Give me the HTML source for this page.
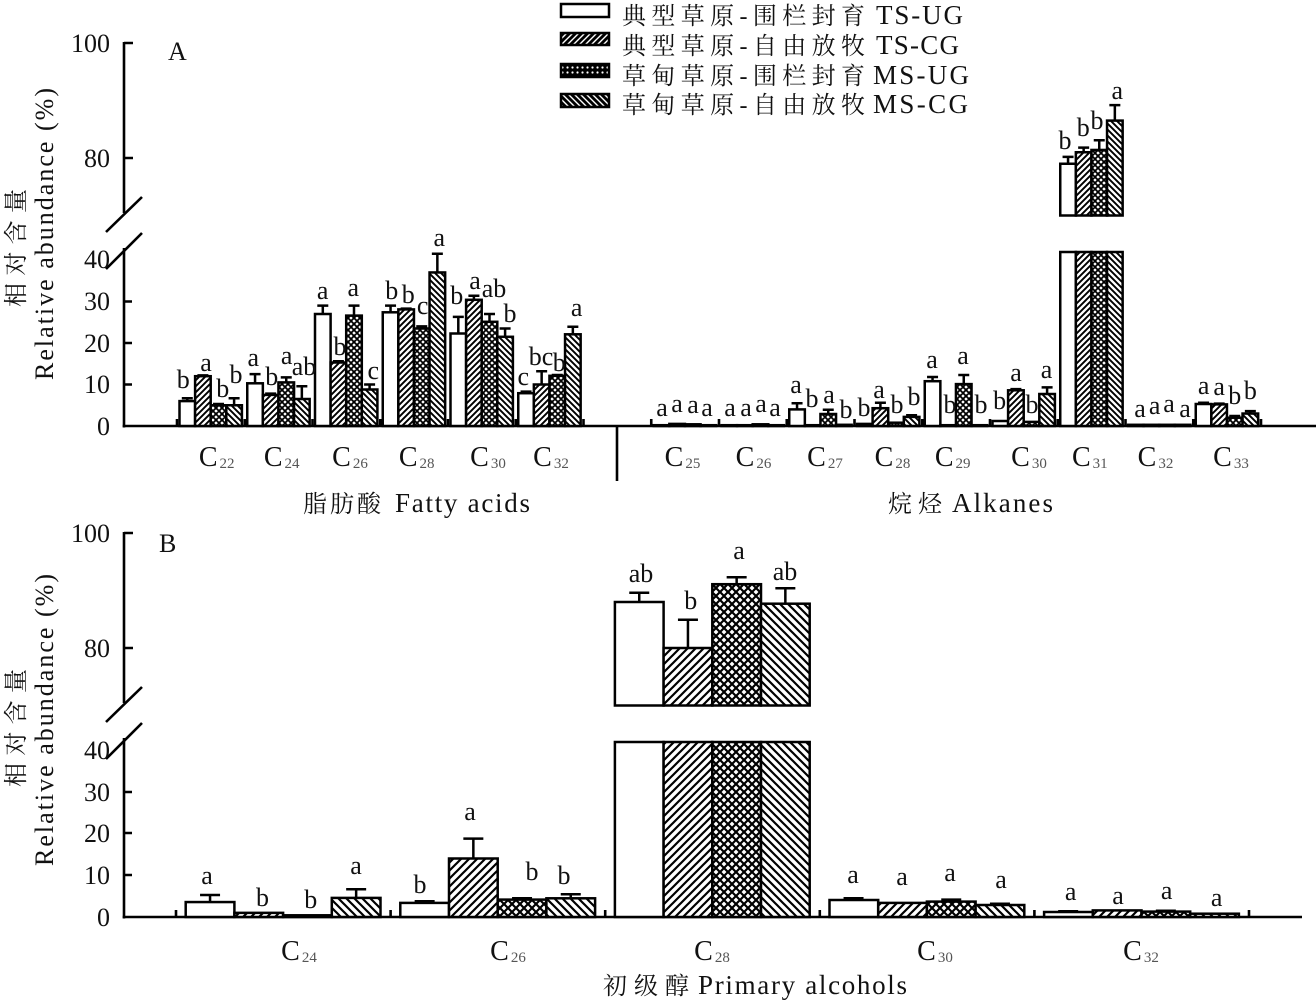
<!DOCTYPE html>
<html><head><meta charset="utf-8"><style>
html,body{margin:0;padding:0;background:#fff;}
svg{display:block;}
text{font-family:"Liberation Serif","Noto Serif CJK SC",serif;fill:#111;}
.cj{font-family:"Liberation Serif","Noto Serif CJK SC",serif;}
</style></head><body>
<svg width="1316" height="1000" viewBox="0 0 1316 1000" xmlns="http://www.w3.org/2000/svg">
<defs>
<pattern id="f" patternUnits="userSpaceOnUse" width="6" height="6"><rect width="6" height="6" fill="#fff"/><path d="M-1,1 l2,-2 M0,6 l6,-6 M5,7 l2,-2" stroke="#000" stroke-width="1.9"/></pattern>
<pattern id="b" patternUnits="userSpaceOnUse" width="6" height="6"><rect width="6" height="6" fill="#fff"/><path d="M-1,5 l2,2 M0,0 l6,6 M5,-1 l2,2" stroke="#000" stroke-width="1.9"/></pattern>
<pattern id="x" patternUnits="userSpaceOnUse" width="6" height="6"><rect width="6" height="6" fill="#fff"/><path d="M-1,1 l2,-2 M0,6 l6,-6 M5,7 l2,-2 M-1,5 l2,2 M0,0 l6,6 M5,-1 l2,2" stroke="#000" stroke-width="1.8"/></pattern>
<pattern id="fB" patternUnits="userSpaceOnUse" width="8" height="8"><rect width="8" height="8" fill="#fff"/><path d="M-1,1 l2,-2 M0,8 l8,-8 M7,9 l2,-2" stroke="#000" stroke-width="2.2"/></pattern>
<pattern id="bB" patternUnits="userSpaceOnUse" width="8" height="8"><rect width="8" height="8" fill="#fff"/><path d="M-1,7 l2,2 M0,0 l8,8 M7,-1 l2,2" stroke="#000" stroke-width="2.2"/></pattern>
<pattern id="xB" patternUnits="userSpaceOnUse" width="8" height="8"><rect width="8" height="8" fill="#fff"/><path d="M-1,1 l2,-2 M0,8 l8,-8 M7,9 l2,-2 M-1,7 l2,2 M0,0 l8,8 M7,-1 l2,2" stroke="#000" stroke-width="2.2"/></pattern>
<pattern id="lf" patternUnits="userSpaceOnUse" width="6" height="6"><rect width="6" height="6" fill="#000"/><path d="M-1,1 l2,-2 M0,6 l6,-6 M5,7 l2,-2" stroke="#fff" stroke-width="1.4"/></pattern>
<pattern id="lb" patternUnits="userSpaceOnUse" width="6" height="6"><rect width="6" height="6" fill="#000"/><path d="M-1,5 l2,2 M0,0 l6,6 M5,-1 l2,2" stroke="#fff" stroke-width="1.4"/></pattern>
<pattern id="lx" patternUnits="userSpaceOnUse" width="5" height="5"><rect width="5" height="5" fill="#000"/><circle cx="2.5" cy="2.5" r="1.1" fill="#fff"/></pattern>
</defs>

<!-- Legend -->
<g stroke="#000" stroke-width="2.5">
<rect x="561" y="4" width="48" height="13" fill="#fff"/>
<rect x="561" y="33" width="48" height="12" fill="url(#lf)"/>
<rect x="561" y="64" width="48" height="13" fill="url(#lx)"/>
<rect x="561" y="94" width="48" height="13" fill="url(#lb)"/>
</g>
<g font-size="24">
<text class="cj" x="622" y="24" textLength="243" lengthAdjust="spacing">典型草原-围栏封育</text>
<text class="cj" x="622" y="54" textLength="243" lengthAdjust="spacing">典型草原-自由放牧</text>
<text class="cj" x="622" y="84" textLength="243" lengthAdjust="spacing">草甸草原-围栏封育</text>
<text class="cj" x="622" y="113" textLength="243" lengthAdjust="spacing">草甸草原-自由放牧</text>
</g>
<g font-size="27">
<text x="876" y="24" textLength="87" lengthAdjust="spacing">TS-UG</text>
<text x="876" y="54" textLength="83" lengthAdjust="spacing">TS-CG</text>
<text x="873" y="84" textLength="96" lengthAdjust="spacing">MS-UG</text>
<text x="873" y="113" textLength="95" lengthAdjust="spacing">MS-CG</text>
</g>

<!-- ============ PANEL A ============ -->
<g stroke="#000" stroke-width="2.6" fill="none">
<path d="M124,42 V213 M124,248 V427.5"/>
<path d="M124,43 H133 M124,158 H133 M124,301.5 H132 M124,343 H132 M124,384.5 H132"/>
<path d="M106,232 L142,197 M106,269 L142,233"/>
<path d="M122.7,426 H1316"/>
<path d="M177,419V426 M244.75,419V426 M312.5,419V426 M380.25,419V426 M448,419V426 M515.75,419V426 M583.5,419V426 M651.25,419V426 M719,419V426 M786.75,419V426 M854.5,419V426 M922.25,419V426 M990,419V426 M1057.75,419V426 M1125.5,419V426 M1193.25,419V426 M1261,419V426"/>
<path d="M617,426 V481"/>
</g>
<g font-size="26" text-anchor="end">
<text x="110" y="52">100</text>
<text x="110" y="167">80</text>
<text x="110" y="268">40</text>
<text x="110" y="310">30</text>
<text x="110" y="352">20</text>
<text x="110" y="393">10</text>
<text x="110" y="435">0</text>
</g>
<text x="168" y="60" font-size="26">A</text>
<text transform="translate(53,234) rotate(-90)" text-anchor="middle" font-size="26" textLength="292" lengthAdjust="spacing">Relative abundance (%)</text>
<text class="cj" transform="translate(24,248) rotate(-90)" text-anchor="middle" font-size="24" textLength="118" lengthAdjust="spacing">相对含量</text>

<!-- A bars -->
<g stroke="#000" stroke-width="2.5">
<rect x="179.5" y="401.1" width="15.6" height="24.9" fill="#fff"/>
<rect x="195.1" y="376.2" width="15.6" height="49.8" fill="url(#f)"/>
<rect x="210.7" y="405.25" width="15.6" height="20.75" fill="url(#x)"/>
<rect x="226.3" y="405.25" width="15.6" height="20.75" fill="url(#b)"/>
<rect x="247.25" y="383.3" width="15.6" height="42.7" fill="#fff"/>
<rect x="262.85" y="394.9" width="15.6" height="31.1" fill="url(#f)"/>
<rect x="278.45" y="382.4" width="15.6" height="43.6" fill="url(#x)"/>
<rect x="294.05" y="399" width="15.6" height="27" fill="url(#b)"/>
<rect x="315" y="314" width="15.6" height="112" fill="#fff"/>
<rect x="330.6" y="362.5" width="15.6" height="63.5" fill="url(#f)"/>
<rect x="346.2" y="315.6" width="15.6" height="110.4" fill="url(#x)"/>
<rect x="361.8" y="389.5" width="15.6" height="36.5" fill="url(#b)"/>
<rect x="382.75" y="312.3" width="15.6" height="113.7" fill="#fff"/>
<rect x="398.35" y="309.4" width="15.6" height="116.6" fill="url(#f)"/>
<rect x="413.95" y="328.5" width="15.6" height="97.5" fill="url(#x)"/>
<rect x="429.55" y="272.45" width="15.6" height="153.55" fill="url(#b)"/>
<rect x="450.5" y="333.5" width="15.6" height="92.5" fill="#fff"/>
<rect x="466.1" y="299.8" width="15.6" height="126.2" fill="url(#f)"/>
<rect x="481.7" y="321.8" width="15.6" height="104.2" fill="url(#x)"/>
<rect x="497.3" y="336.8" width="15.6" height="89.2" fill="url(#b)"/>
<rect x="518.25" y="393.2" width="15.6" height="32.8" fill="#fff"/>
<rect x="533.85" y="384.5" width="15.6" height="41.5" fill="url(#f)"/>
<rect x="549.45" y="375.8" width="15.6" height="50.2" fill="url(#x)"/>
<rect x="565.05" y="334.3" width="15.6" height="91.7" fill="url(#b)"/>
<rect x="653.75" y="425.2" width="15.6" height="0.8" fill="#fff"/>
<rect x="669.35" y="423.9" width="15.6" height="2.1" fill="url(#f)"/>
<rect x="684.95" y="424.3" width="15.6" height="1.7" fill="url(#x)"/>
<rect x="700.55" y="425.2" width="15.6" height="0.8" fill="url(#b)"/>
<rect x="721.5" y="425.2" width="15.6" height="0.8" fill="#fff"/>
<rect x="737.1" y="425.2" width="15.6" height="0.8" fill="url(#f)"/>
<rect x="752.7" y="424.3" width="15.6" height="1.7" fill="url(#x)"/>
<rect x="768.3" y="425.2" width="15.6" height="0.8" fill="url(#b)"/>
<rect x="789.25" y="409.4" width="15.6" height="16.6" fill="#fff"/>
<rect x="804.85" y="425.2" width="15.6" height="0.8" fill="url(#f)"/>
<rect x="820.45" y="414" width="15.6" height="12" fill="url(#x)"/>
<rect x="836.05" y="424.8" width="15.6" height="1.2" fill="url(#b)"/>
<rect x="857" y="423.9" width="15.6" height="2.1" fill="#fff"/>
<rect x="872.6" y="408.2" width="15.6" height="17.8" fill="url(#f)"/>
<rect x="888.2" y="422.7" width="15.6" height="3.3" fill="url(#x)"/>
<rect x="903.8" y="416.9" width="15.6" height="9.1" fill="url(#b)"/>
<rect x="924.75" y="381.2" width="15.6" height="44.8" fill="#fff"/>
<rect x="940.35" y="425.2" width="15.6" height="0.8" fill="url(#f)"/>
<rect x="955.95" y="384.1" width="15.6" height="41.9" fill="url(#x)"/>
<rect x="971.55" y="425.2" width="15.6" height="0.8" fill="url(#b)"/>
<rect x="992.5" y="421" width="15.6" height="5" fill="#fff"/>
<rect x="1008.1" y="390.3" width="15.6" height="35.7" fill="url(#f)"/>
<rect x="1023.7" y="421.9" width="15.6" height="4.1" fill="url(#x)"/>
<rect x="1039.3" y="394" width="15.6" height="32" fill="url(#b)"/>
<rect x="1060.25" y="252" width="15.6" height="174" fill="#fff"/>
<rect x="1075.85" y="252" width="15.6" height="174" fill="url(#f)"/>
<rect x="1091.45" y="252" width="15.6" height="174" fill="url(#x)"/>
<rect x="1107.05" y="252" width="15.6" height="174" fill="url(#b)"/>
<rect x="1060.25" y="163.75" width="15.6" height="51.75" fill="#fff"/>
<rect x="1075.85" y="152.25" width="15.6" height="63.25" fill="url(#f)"/>
<rect x="1091.45" y="149.95" width="15.6" height="65.55" fill="url(#x)"/>
<rect x="1107.05" y="120.6" width="15.6" height="94.9" fill="url(#b)"/>
<rect x="1128" y="424.8" width="15.6" height="1.2" fill="#fff"/>
<rect x="1143.6" y="424.8" width="15.6" height="1.2" fill="url(#f)"/>
<rect x="1159.2" y="424.8" width="15.6" height="1.2" fill="url(#x)"/>
<rect x="1174.8" y="424.8" width="15.6" height="1.2" fill="url(#b)"/>
<rect x="1195.75" y="404" width="15.6" height="22" fill="#fff"/>
<rect x="1211.35" y="404.4" width="15.6" height="21.6" fill="url(#f)"/>
<rect x="1226.95" y="417.7" width="15.6" height="8.3" fill="url(#x)"/>
<rect x="1242.55" y="413.55" width="15.6" height="12.45" fill="url(#b)"/>
</g>
<path fill="none" stroke="#000" stroke-width="2.5" d="
M187.3,401.1V398.2M181.8,398.2H192.8
M202.9,376.2V375.4M197.4,375.4H208.4
M218.5,405.25V404M213,404H224
M234.1,405.25V398.2M228.6,398.2H239.6
M255.05,383.3V374.1M249.55,374.1H260.55
M270.65,394.9V393.6M265.15,393.6H276.15
M286.25,382.4V377.4M280.75,377.4H291.75
M301.85,399V386.2M296.35,386.2H307.35
M322.8,314V305.6M317.3,305.6H328.3
M338.4,362.5V361.3M332.9,361.3H343.9
M354,315.6V305.6M348.5,305.6H359.5
M369.6,389.5V384.5M364.1,384.5H375.1
M390.55,312.3V305.6M385.05,305.6H396.05
M406.15,309.4V308.6M400.65,308.6H411.65
M421.75,328.5V326.4M416.25,326.4H427.25
M437.35,272.45V253.8M431.85,253.8H442.85
M458.3,333.5V316.9M452.8,316.9H463.8
M473.9,299.8V295.7M468.4,295.7H479.4
M489.5,321.8V314M484,314H495
M505.1,336.8V328.5M499.6,328.5H510.6
M526.05,393.2V391.6M520.55,391.6H531.55
M541.65,384.5V371.2M536.15,371.2H547.15
M557.25,375.8V375M551.75,375H562.75
M572.85,334.3V326.8M567.35,326.8H578.35
M797.05,409.4V403.2M791.55,403.2H802.55
M828.25,414V409.8M822.75,409.8H833.75
M880.4,408.2V402.8M874.9,402.8H885.9
M911.6,416.9V415.2M906.1,415.2H917.1
M932.55,381.2V377M927.05,377H938.05
M963.75,384.1V375M958.25,375H969.25
M1015.9,390.3V389.1M1010.4,389.1H1021.4
M1047.1,394V387.4M1041.6,387.4H1052.6
M1068.05,163.75V156.85M1062.55,156.85H1073.55
M1083.65,152.25V147.65M1078.15,147.65H1089.15
M1099.25,149.95V140.2M1093.75,140.2H1104.75
M1114.85,120.6V105.1M1109.35,105.1H1120.35
M1203.55,404V402.8M1198.05,402.8H1209.05
M1219.15,404.4V403.6M1213.65,403.6H1224.65
M1234.75,417.7V416M1229.25,416H1240.25
M1250.35,413.55V411.1M1244.85,411.1H1255.85"/>
<g font-size="26" text-anchor="middle">
<text x="183.3" y="388">b</text><text x="206" y="371">a</text><text x="222.7" y="397">b</text><text x="236" y="383">b</text>
<text x="253.3" y="366">a</text><text x="271.7" y="385">b</text><text x="286.7" y="364">a</text><text x="304" y="375">ab</text>
<text x="322.7" y="299">a</text><text x="340" y="355">b</text><text x="353.3" y="296">a</text><text x="373.3" y="379">c</text>
<text x="391.7" y="299">b</text><text x="408.3" y="303">b</text><text x="422.7" y="314">c</text><text x="439.3" y="246">a</text>
<text x="456.7" y="304">b</text><text x="475" y="289">a</text><text x="494" y="297">ab</text><text x="510" y="322">b</text>
<text x="523.3" y="385">c</text><text x="541" y="365">bc</text><text x="559.3" y="371">b</text><text x="576.7" y="316">a</text>
<text x="662" y="416">a</text><text x="677" y="412">a</text><text x="693" y="413">a</text><text x="707" y="416">a</text>
<text x="730" y="416">a</text><text x="746" y="416">a</text><text x="761" y="412">a</text><text x="775" y="416">a</text>
<text x="796" y="393">a</text><text x="812" y="407">b</text><text x="829" y="403">a</text><text x="846" y="418">b</text>
<text x="864" y="416">b</text><text x="879" y="398">a</text><text x="897" y="413">b</text><text x="914" y="405">b</text>
<text x="932" y="368">a</text><text x="950" y="413">b</text><text x="963" y="364">a</text><text x="981" y="413">b</text>
<text x="999.6" y="409">b</text><text x="1016" y="381">a</text><text x="1032" y="413">b</text><text x="1046.5" y="378">a</text>
<text x="1065" y="149">b</text><text x="1083.3" y="136">b</text><text x="1097" y="129">b</text><text x="1117.3" y="99">a</text>
<text x="1140" y="417">a</text><text x="1154.7" y="414">a</text><text x="1169" y="412">a</text><text x="1185" y="417">a</text>
<text x="1203.6" y="394">a</text><text x="1219.2" y="395">a</text><text x="1234.8" y="404">b</text><text x="1250.4" y="399">b</text>
</g>
<g font-size="28" text-anchor="middle">
<text x="216.7" y="466">C<tspan font-size="15" fill="#555" dx="2" dy="2">22</tspan></text>
<text x="281.7" y="466">C<tspan font-size="15" fill="#555" dx="2" dy="2">24</tspan></text>
<text x="350" y="466">C<tspan font-size="15" fill="#555" dx="2" dy="2">26</tspan></text>
<text x="416.7" y="466">C<tspan font-size="15" fill="#555" dx="2" dy="2">28</tspan></text>
<text x="488" y="466">C<tspan font-size="15" fill="#555" dx="2" dy="2">30</tspan></text>
<text x="551" y="466">C<tspan font-size="15" fill="#555" dx="2" dy="2">32</tspan></text>
<text x="682.5" y="466">C<tspan font-size="15" fill="#555" dx="2" dy="2">25</tspan></text>
<text x="753.5" y="466">C<tspan font-size="15" fill="#555" dx="2" dy="2">26</tspan></text>
<text x="825" y="466">C<tspan font-size="15" fill="#555" dx="2" dy="2">27</tspan></text>
<text x="892.5" y="466">C<tspan font-size="15" fill="#555" dx="2" dy="2">28</tspan></text>
<text x="952.7" y="466">C<tspan font-size="15" fill="#555" dx="2" dy="2">29</tspan></text>
<text x="1029" y="466">C<tspan font-size="15" fill="#555" dx="2" dy="2">30</tspan></text>
<text x="1089.8" y="466">C<tspan font-size="15" fill="#555" dx="2" dy="2">31</tspan></text>
<text x="1155.5" y="466">C<tspan font-size="15" fill="#555" dx="2" dy="2">32</tspan></text>
<text x="1231" y="466">C<tspan font-size="15" fill="#555" dx="2" dy="2">33</tspan></text>
</g>
<text class="cj" x="303" y="512" font-size="24" textLength="78" lengthAdjust="spacing">脂肪酸</text>
<text x="395" y="512" font-size="27" textLength="135" lengthAdjust="spacing">Fatty acids</text>
<text class="cj" x="888" y="512" font-size="24" textLength="54" lengthAdjust="spacing">烷烃</text>
<text x="952" y="512" font-size="27" textLength="101" lengthAdjust="spacing">Alkanes</text>

<!-- ============ PANEL B ============ -->
<g stroke="#000" stroke-width="2.6" fill="none">
<path d="M124,532 V703 M124,738 V918.5"/>
<path d="M124,533 H133 M124,648 H133 M124,792 H132 M124,833 H132 M124,875 H132"/>
<path d="M106,722 L142,687 M106,759 L142,723"/>
<path d="M122.7,917 H1302"/>
<path d="M176,910V917 M390.6,910V917 M605.2,910V917 M819.8,910V917 M1034.4,910V917 M1249,910V917"/>
</g>
<g font-size="26" text-anchor="end">
<text x="110" y="542">100</text>
<text x="110" y="657">80</text>
<text x="110" y="759">40</text>
<text x="110" y="801">30</text>
<text x="110" y="842">20</text>
<text x="110" y="884">10</text>
<text x="110" y="926">0</text>
</g>
<text x="159" y="552" font-size="26">B</text>
<text transform="translate(53,720) rotate(-90)" text-anchor="middle" font-size="26" textLength="292" lengthAdjust="spacing">Relative abundance (%)</text>
<text class="cj" transform="translate(24,728) rotate(-90)" text-anchor="middle" font-size="24" textLength="118" lengthAdjust="spacing">相对含量</text>

<g stroke="#000" stroke-width="2.5">
<rect x="185.7" y="902.06" width="48.7" height="14.94" fill="#fff"/>
<rect x="234.4" y="912.85" width="48.7" height="4.15" fill="url(#fB)"/>
<rect x="283.1" y="915.3" width="48.7" height="1.7" fill="url(#xB)"/>
<rect x="331.8" y="897.9" width="48.7" height="19.1" fill="url(#bB)"/>
<rect x="400.3" y="902.9" width="48.7" height="14.1" fill="#fff"/>
<rect x="449" y="858.5" width="48.7" height="58.5" fill="url(#fB)"/>
<rect x="497.7" y="899.6" width="48.7" height="17.4" fill="url(#xB)"/>
<rect x="546.4" y="898.3" width="48.7" height="18.7" fill="url(#bB)"/>
<rect x="614.9" y="742" width="48.7" height="175" fill="#fff"/>
<rect x="663.6" y="742" width="48.7" height="175" fill="url(#fB)"/>
<rect x="712.3" y="742" width="48.7" height="175" fill="url(#xB)"/>
<rect x="761" y="742" width="48.7" height="175" fill="url(#bB)"/>
<rect x="614.9" y="602" width="48.7" height="103.5" fill="#fff"/>
<rect x="663.6" y="648" width="48.7" height="57.5" fill="url(#fB)"/>
<rect x="712.3" y="584.2" width="48.7" height="121.3" fill="url(#xB)"/>
<rect x="761" y="603.7" width="48.7" height="101.8" fill="url(#bB)"/>
<rect x="829.5" y="900" width="48.7" height="17" fill="#fff"/>
<rect x="878.2" y="902.9" width="48.7" height="14.1" fill="url(#fB)"/>
<rect x="926.9" y="901.6" width="48.7" height="15.4" fill="url(#xB)"/>
<rect x="975.6" y="905" width="48.7" height="12" fill="url(#bB)"/>
<rect x="1044.1" y="912" width="48.7" height="5" fill="#fff"/>
<rect x="1092.8" y="910.4" width="48.7" height="6.6" fill="url(#fB)"/>
<rect x="1141.5" y="911.6" width="48.7" height="5.4" fill="url(#xB)"/>
<rect x="1190.2" y="913.7" width="48.7" height="3.3" fill="url(#bB)"/>
</g>
<path fill="none" stroke="#000" stroke-width="2.5" d="
M210.05,902.06V895M200.05,895H220.05
M356.15,897.9V889.2M346.15,889.2H366.15
M424.65,902.9V901.2M414.65,901.2H434.65
M473.35,858.5V838.6M463.35,838.6H483.35
M522.05,899.6V898.3M512.05,898.3H532.05
M570.75,898.3V894.2M560.75,894.2H580.75
M639.25,602V592.8M629.25,592.8H649.25
M687.95,648V619.8M677.95,619.8H697.95
M736.65,584.2V577.3M726.65,577.3H746.65
M785.35,603.7V588.2M775.35,588.2H795.35
M853.55,900V898.3M843.55,898.3H863.55
M951.25,901.6V899.6M941.25,899.6H961.25
M999.95,905V903.7M989.95,903.7H1009.95
M1068.15,912V911.2M1058.15,911.2H1078.15
M1165.85,911.6V910.8M1155.85,910.8H1175.85"/>
<g font-size="26" text-anchor="middle">
<text x="207" y="884">a</text><text x="262.5" y="906">b</text><text x="310.7" y="908">b</text><text x="356" y="874">a</text>
<text x="420" y="893">b</text><text x="470" y="820">a</text><text x="532" y="880">b</text><text x="564" y="884">b</text>
<text x="641" y="582">ab</text><text x="690.7" y="609">b</text><text x="739" y="559">a</text><text x="785" y="580">ab</text>
<text x="853" y="883">a</text><text x="902" y="885">a</text><text x="950" y="881">a</text><text x="1001" y="888">a</text>
<text x="1070.7" y="900">a</text><text x="1118" y="904">a</text><text x="1166.7" y="899">a</text><text x="1216.7" y="906">a</text>
</g>
<g font-size="28" text-anchor="middle">
<text x="299" y="960">C<tspan font-size="15" fill="#555" dx="2" dy="2">24</tspan></text>
<text x="508" y="960">C<tspan font-size="15" fill="#555" dx="2" dy="2">26</tspan></text>
<text x="712" y="960">C<tspan font-size="15" fill="#555" dx="2" dy="2">28</tspan></text>
<text x="935" y="960">C<tspan font-size="15" fill="#555" dx="2" dy="2">30</tspan></text>
<text x="1141" y="960">C<tspan font-size="15" fill="#555" dx="2" dy="2">32</tspan></text>
</g>
<text class="cj" x="603" y="994" font-size="24" textLength="86" lengthAdjust="spacing">初级醇</text>
<text x="698" y="994" font-size="27" textLength="209" lengthAdjust="spacing">Primary alcohols</text>
</svg>
</body></html>
